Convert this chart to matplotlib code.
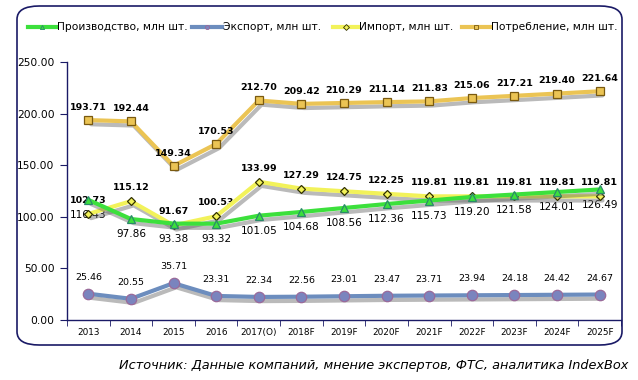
import matplotlib.pyplot as plt
import matplotlib.patheffects as pe
from matplotlib.patches import FancyBboxPatch
from matplotlib.lines import Line2D
from matplotlib.ticker import FixedLocator

years = ["2013", "2014", "2015", "2016", "2017(О)", "2018F", "2019F", "2020F",
         "2021F", "2022F", "2023F", "2024F", "2025F"]
production = [116.43, 97.86, 93.38, 93.32, 101.05, 104.68, 108.56, 112.36,
              115.73, 119.20, 121.58, 124.01, 126.49]
export = [25.46, 20.55, 35.71, 23.31, 22.34, 22.56, 23.01, 23.47,
          23.71, 23.94, 24.18, 24.42, 24.67]
imports = [102.73, 115.12, 91.67, 100.53, 133.99, 127.29, 124.75, 122.25,
           119.81, 119.81, 119.81, 119.81, 119.81]
consumption = [193.71, 192.44, 149.34, 170.53, 212.70, 209.42, 210.29, 211.14,
               211.83, 215.06, 217.21, 219.40, 221.64]

navy = "#1a1a66"
plt.rcParams['font.family'] = ['DejaVu Sans']

fig = plt.figure(figsize=(6.38, 3.8), dpi=100)
ax = fig.add_axes([67/638, 1-320/380, (621-67)/638, (320-62)/380])

# rounded frame around the chart
frame = FancyBboxPatch((17/638, 1-345/380), (622-17)/638, (345-6)/380,
                       boxstyle="round,pad=0,rounding_size=0.035",
                       transform=fig.transFigure, fill=False,
                       edgecolor=navy, linewidth=1.2, zorder=0)
fig.patches.append(frame)

x = list(range(len(years)))
shadow = [pe.SimpleLineShadow(offset=(2, -3), shadow_color="#666666", alpha=0.45),
          pe.Normal()]

series = [
    # values, line colour, marker, size, face, edge, label, zorder
    (consumption, "#EBC454", "s", 6, "#EBC454", "#7a5a10", "Потребление, млн шт.", 3),
    (imports, "#F2F25A", "D", 4.5, "#F2F25A", "#303000", "Импорт, млн шт.", 4),
    (production, "#3CE03C", "^", 6, "#3CE03C", "#2a8a6a", "Производство, млн шт.", 5),
    (export, "#6C8DBE", "o", 7.5, "#7A84BE", "#9a6a9a", "Экспорт, млн шт.", 5),
]
styles = {}
for vals, col, mk, ms, fc, ec, lab, z in series:
    ax.plot(x, vals, color=col, lw=3, path_effects=shadow, zorder=z,
            solid_capstyle="round")
    ax.plot(x, vals, ls="none", marker=mk, markersize=ms, markerfacecolor=fc,
            markeredgecolor=ec, markeredgewidth=0.9, zorder=z + 0.5)
    styles[lab] = (col, mk, fc, ec)

for i in x:
    ax.annotate(f"{consumption[i]:.2f}", (i, consumption[i]), xytext=(0, 6),
                textcoords="offset points", ha="center", va="bottom",
                fontsize=6.8, fontweight="bold", color="black")
    ax.annotate(f"{imports[i]:.2f}", (i, imports[i]), xytext=(0, 6.5),
                textcoords="offset points", ha="center", va="bottom",
                fontsize=6.8, fontweight="bold", color="black")
    ax.annotate(f"{production[i]:.2f}", (i, production[i]), xytext=(0, -7.5),
                textcoords="offset points", ha="center", va="top",
                fontsize=7.6, color="black")
    ax.annotate(f"{export[i]:.2f}", (i, export[i]), xytext=(0, 8.5),
                textcoords="offset points", ha="center", va="bottom",
                fontsize=6.8, color="black")

ax.set_xlim(-0.5, len(years) - 0.5)
ax.set_ylim(0, 250)
ax.set_yticks([0, 50, 100, 150, 200, 250])
ax.set_yticklabels([f"{v:.2f}" for v in [0, 50, 100, 150, 200, 250]], fontsize=7.7)
ax.set_xticks(x)
ax.set_xticklabels(years, fontsize=6.4)
ax.xaxis.set_minor_locator(FixedLocator([i + 0.5 for i in range(-1, len(years))]))
ax.tick_params(axis="x", which="major", length=0, pad=6)
ax.tick_params(axis="x", which="minor", length=4, color=navy, direction="out")
ax.tick_params(axis="y", length=5, color=navy, direction="out", pad=4)

for s in ["top", "right"]:
    ax.spines[s].set_visible(False)
for s in ["left", "bottom"]:
    ax.spines[s].set_color(navy)
    ax.spines[s].set_linewidth(1)

# legend row, each entry placed where the original has it (pixels)
legend_items = [("Производство, млн шт.", 28, 56),
                ("Экспорт, млн шт.", 192, 222),
                ("Импорт, млн шт.", 333, 358),
                ("Потребление, млн шт.", 462, 490)]
ly = 1 - 27/380
for lab, x0, x1 in legend_items:
    col, mk, fc, ec = styles[lab]
    fig.add_artist(Line2D([x0/638, x1/638], [ly, ly], transform=fig.transFigure,
                          color=col, lw=3))
    fig.add_artist(Line2D([(x0 + x1)/2/638], [ly], transform=fig.transFigure,
                          ls="none", marker=mk, markersize=3, markerfacecolor=fc,
                          markeredgecolor=ec, markeredgewidth=0.6))
    fig.text(x1/638 + 0.001, ly, lab, ha="left", va="center", fontsize=7.7)

fig.text(628/638, 1-365/380, "Источник: Данные компаний, мнение экспертов, ФТС, аналитика IndexBox",
         ha="right", va="center", fontsize=9.3, style="italic", color="black")

fig.savefig("out.png", dpi=100)
